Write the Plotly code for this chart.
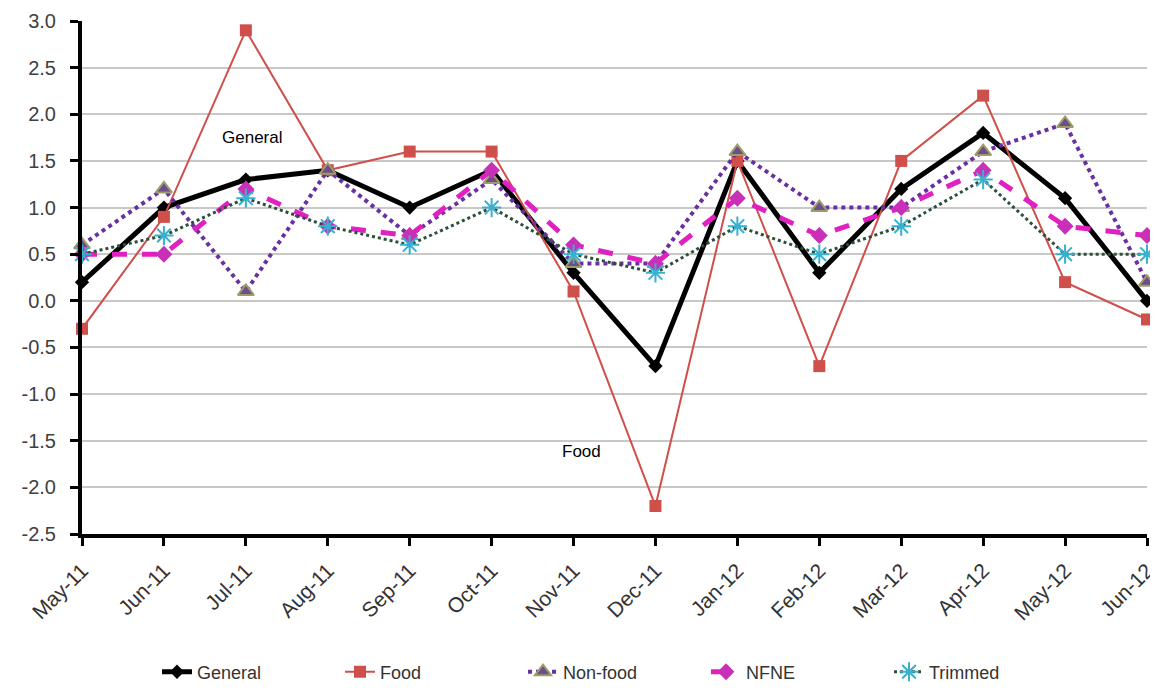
import plotly.graph_objects as go

months = ["May-11", "Jun-11", "Jul-11", "Aug-11", "Sep-11", "Oct-11", "Nov-11",
          "Dec-11", "Jan-12", "Feb-12", "Mar-12", "Apr-12", "May-12", "Jun-12"]
general = [0.2, 1.0, 1.3, 1.4, 1.0, 1.4, 0.3, -0.7, 1.5, 0.3, 1.2, 1.8, 1.1, 0.0]
food = [-0.3, 0.9, 2.9, 1.4, 1.6, 1.6, 0.1, -2.2, 1.5, -0.7, 1.5, 2.2, 0.2, -0.2]
non_food = [0.6, 1.2, 0.1, 1.4, 0.7, 1.3, 0.4, 0.4, 1.6, 1.0, 1.0, 1.6, 1.9, 0.2]
nfne = [0.5, 0.5, 1.2, 0.8, 0.7, 1.4, 0.6, 0.4, 1.1, 0.7, 1.0, 1.4, 0.8, 0.7]
trimmed = [0.5, 0.7, 1.1, 0.8, 0.6, 1.0, 0.5, 0.3, 0.8, 0.5, 0.8, 1.3, 0.5, 0.5]
y_ticks = [3.0, 2.5, 2.0, 1.5, 1.0, 0.5, 0.0, -0.5, -1.0, -1.5, -2.0, -2.5]

fig = go.Figure()
fig.add_trace(go.Scatter(x=months, y=general, name="General", mode="lines+markers",
                         cliponaxis=False,
                         line=dict(color="black", width=5),
                         marker=dict(symbol="diamond", size=11, color="black")))
fig.add_trace(go.Scatter(x=months, y=food, name="Food", mode="lines+markers",
                         cliponaxis=False,
                         line=dict(color="#cf4f4a", width=2),
                         marker=dict(symbol="square", size=12, color="#cf4f4a")))
fig.add_trace(go.Scatter(x=months, y=non_food, name="Non-food", mode="lines+markers",
                         cliponaxis=False,
                         line=dict(color="#6a30a0", width=4, dash="dot"),
                         marker=dict(symbol="triangle-up", size=14, color="#6e4e8a",
                                     line=dict(color="#9c9c6a", width=2))))
fig.add_trace(go.Scatter(x=months, y=nfne, name="NFNE", mode="lines+markers",
                         cliponaxis=False,
                         line=dict(color="#e020c0", width=5, dash="dash"),
                         marker=dict(symbol="diamond", size=13, color="#c830b8")))
fig.add_trace(go.Scatter(x=months, y=trimmed, name="Trimmed", mode="lines+markers",
                         cliponaxis=False,
                         line=dict(color="#2a5038", width=3, dash="dot"),
                         marker=dict(symbol="asterisk-open", size=16, color="#38b0d0",
                                     line=dict(color="#38b0d0", width=2))))

fig.add_annotation(x=2.08, y=1.75, text="General", showarrow=False,
                   font=dict(family="Liberation Sans, Arial", size=17, color="black"))
fig.add_annotation(x=6.1, y=-1.62, text="Food", showarrow=False,
                   font=dict(family="Liberation Sans, Arial", size=17, color="black"))

fig.update_layout(
    width=1150, height=686,
    margin=dict(l=74, r=11, t=13, b=160),
    paper_bgcolor="white", plot_bgcolor="white",
    showlegend=True,
    legend=dict(orientation="h", x=0.5, xanchor="center",
                yref="container", y=0.032, yanchor="middle",
                font=dict(family="Liberation Sans", size=18, color="#333333"),
                traceorder="normal", entrywidth=138),
    font=dict(family="Liberation Sans", color="#333333"),
)
fig.update_xaxes(type="category", range=[0, 13], showgrid=False, automargin=False,
                 showline=True, linecolor="black", linewidth=4,
                 ticks="outside", tickcolor="black", tickwidth=3, ticklen=8,
                 ticklabelstandoff=4, ticklabeloverflow="allow",
                 tickangle=-45, tickfont=dict(family="Liberation Sans", size=21, color="#333333"))
fig.update_yaxes(range=[-2.5, 3.0], tickvals=y_ticks, automargin=False,
                 ticktext=[f"{v:.1f}" for v in y_ticks],
                 showgrid=True, gridcolor="#c8c8c8", gridwidth=2,
                 showline=True, linecolor="black", linewidth=4,
                 ticks="outside", tickcolor="black", tickwidth=3, ticklen=8,
                 ticklabelstandoff=10, ticklabeloverflow="allow",
                 zeroline=False,
                 tickfont=dict(family="Liberation Sans", size=20, color="#404040"))

fig.write_html("out.html")
